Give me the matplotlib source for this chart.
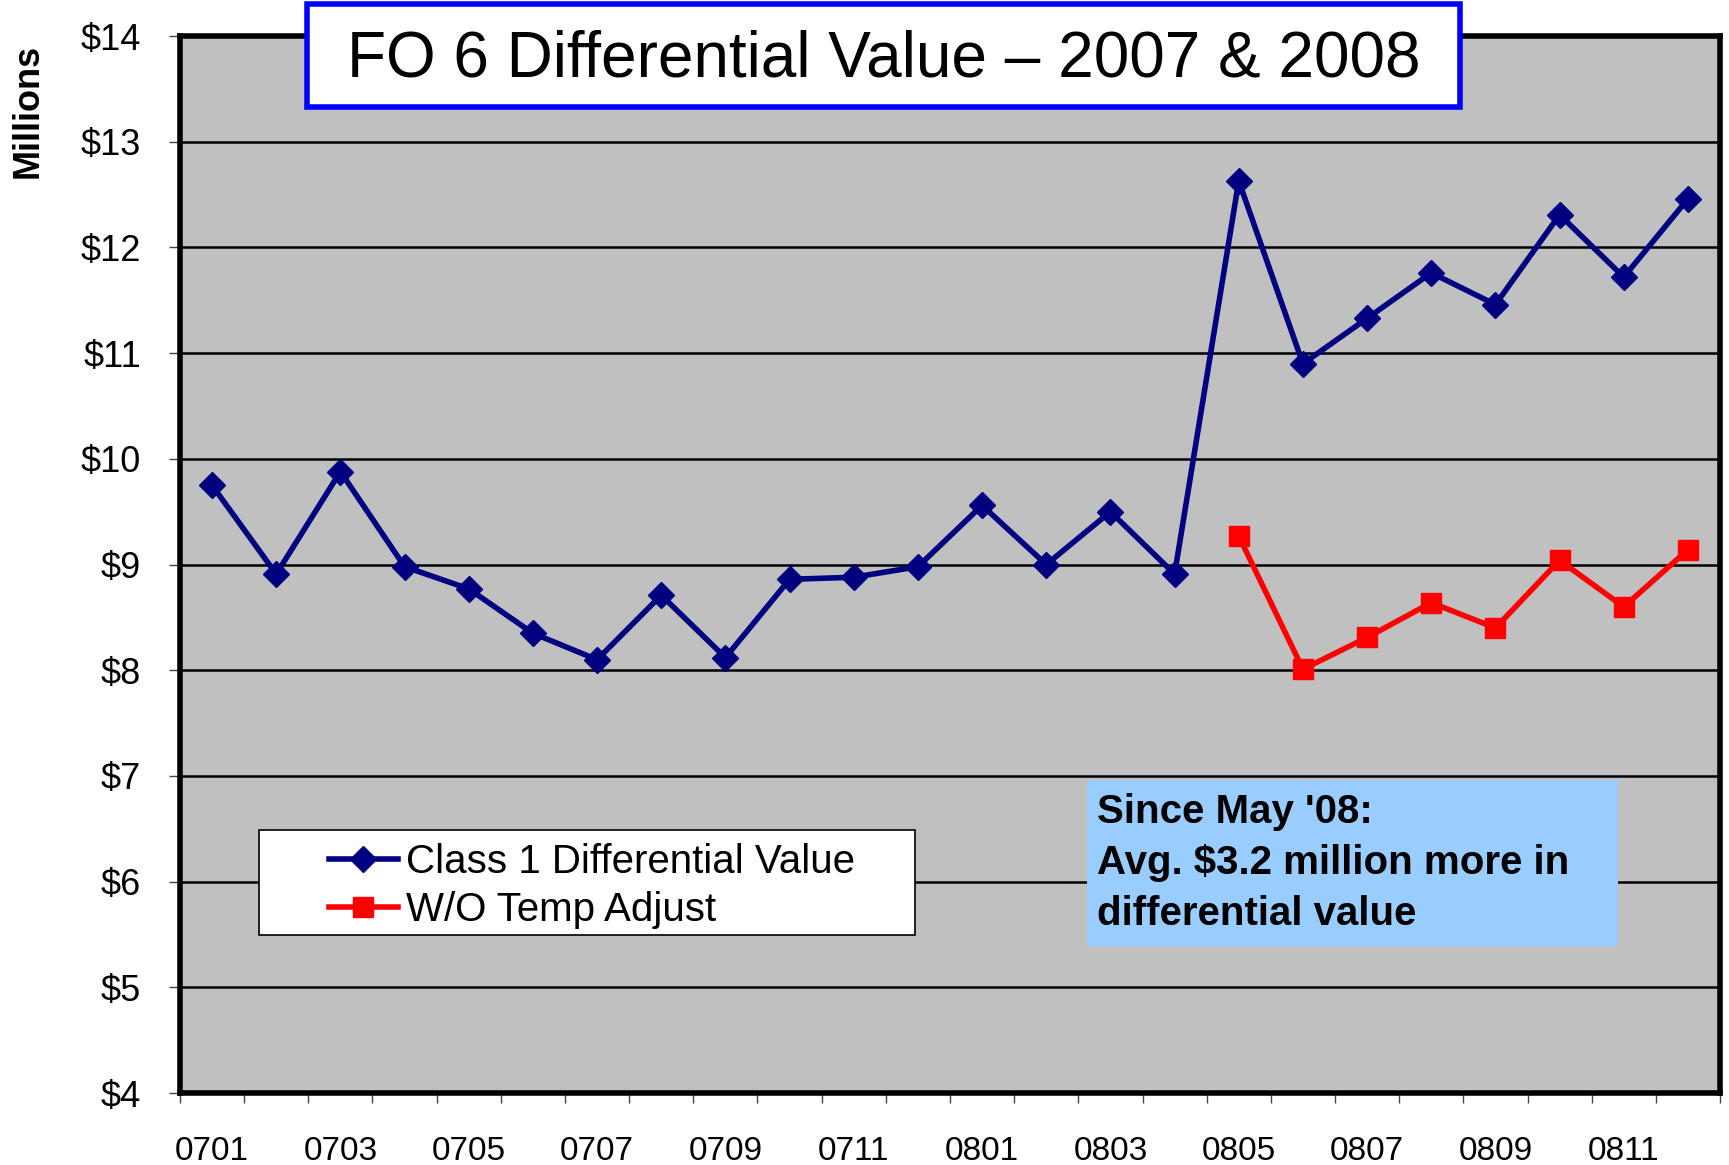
import matplotlib.pyplot as plt
from matplotlib.patches import Rectangle

# data (millions of dollars)
months = ['0701', '0702', '0703', '0704', '0705', '0706', '0707', '0708', '0709', '0710', '0711', '0712',
          '0801', '0802', '0803', '0804', '0805', '0806', '0807', '0808', '0809', '0810', '0811', '0812']
class1_value = [9.75, 8.91, 9.88, 8.98, 8.77, 8.35, 8.10, 8.71, 8.12, 8.86, 8.88, 8.98,
                9.56, 9.00, 9.50, 8.91, 12.63, 10.90, 11.33, 11.76, 11.46, 12.31, 11.72, 12.46]
wo_temp_months = months[16:]
wo_temp_value = [9.27, 8.01, 8.31, 8.64, 8.40, 9.04, 8.60, 9.14]
y_ticks = [4, 5, 6, 7, 8, 9, 10, 11, 12, 13, 14]
note_lines = ["Since May '08:", "Avg. $3.2 million more in", "differential value"]

plt.rcParams['font.family'] = ['Liberation Sans', 'DejaVu Sans']

fig = plt.figure(figsize=(17.29, 11.65), dpi=100)
ax = fig.add_axes([0.1041, 0.0618, 0.8907, 0.9072])
ax.set_facecolor('#C0C0C0')

x_all = list(range(len(months)))
x_red = [months.index(m) for m in wo_temp_months]

ax.plot(x_all, class1_value, color='#000080', lw=4, marker='D', ms=13,
        label='Class 1 Differential Value', zorder=3)
ax.plot(x_red, wo_temp_value, color='#FF0000', lw=4, marker='s', ms=15,
        label='W/O Temp Adjust', zorder=3)

ax.set_xlim(-0.5, len(months) - 0.5)
ax.set_ylim(4, 14)
ax.set_yticks(y_ticks)
ax.set_yticklabels(['$%d' % v for v in y_ticks])
ax.yaxis.grid(True, color='black', lw=1.8)
ax.set_axisbelow(True)

# category axis: tick marks between categories, labels on every other month
ax.set_xticks([i - 0.5 for i in range(len(months) + 1)])
ax.set_xticklabels([])
ax.set_xticks(x_all[::2], minor=True)
ax.set_xticklabels(months[::2], minor=True)
ax.tick_params(axis='x', which='major', length=7, width=1, direction='out', color='#444444')
ax.tick_params(axis='x', which='minor', length=0, pad=31, labelsize=24)
ax.tick_params(axis='y', length=8, width=1, color='#444444', labelsize=26, pad=20)

for s in ax.spines.values():
    s.set_linewidth(4)
    s.set_color('black')

fig.text(0.016, 0.905, 'Millions', rotation=90, fontsize=26, fontweight='bold',
         ha='center', va='center')

# title box
fig.patches.append(Rectangle((0.1776, 0.908), 0.6667, 0.0885, transform=fig.transFigure,
                             facecolor='white', edgecolor='#0000FF', lw=4, zorder=5))
fig.text(0.511, 0.949, 'FO 6 Differential Value \u2013 2007 & 2008', fontsize=46,
         ha='center', va='center', zorder=6)

# legend box
ax.add_patch(Rectangle((0.0513, 0.1495), 0.4257, 0.0993, transform=ax.transAxes,
                       facecolor='white', edgecolor='black', lw=1.2, zorder=5))
leg = ax.legend(loc='center left', bbox_to_anchor=(0.0968, 0.1956), fontsize=29,
                frameon=False, handlelength=1.7, handletextpad=0.2, borderpad=0,
                labelspacing=0.25, borderaxespad=0)
leg.set_zorder(6)

# note box
ax.add_patch(Rectangle((0.589, 0.139), 0.345, 0.157, transform=ax.transAxes,
                       facecolor='#99CCFF', edgecolor='none', zorder=5))
for line, yb in zip(note_lines, [0.2557, 0.2072, 0.1589]):
    ax.text(0.5955, yb, line, transform=ax.transAxes, fontsize=29, fontweight='bold',
            va='baseline', ha='left', zorder=6)

fig.savefig('out.png', dpi=100)
